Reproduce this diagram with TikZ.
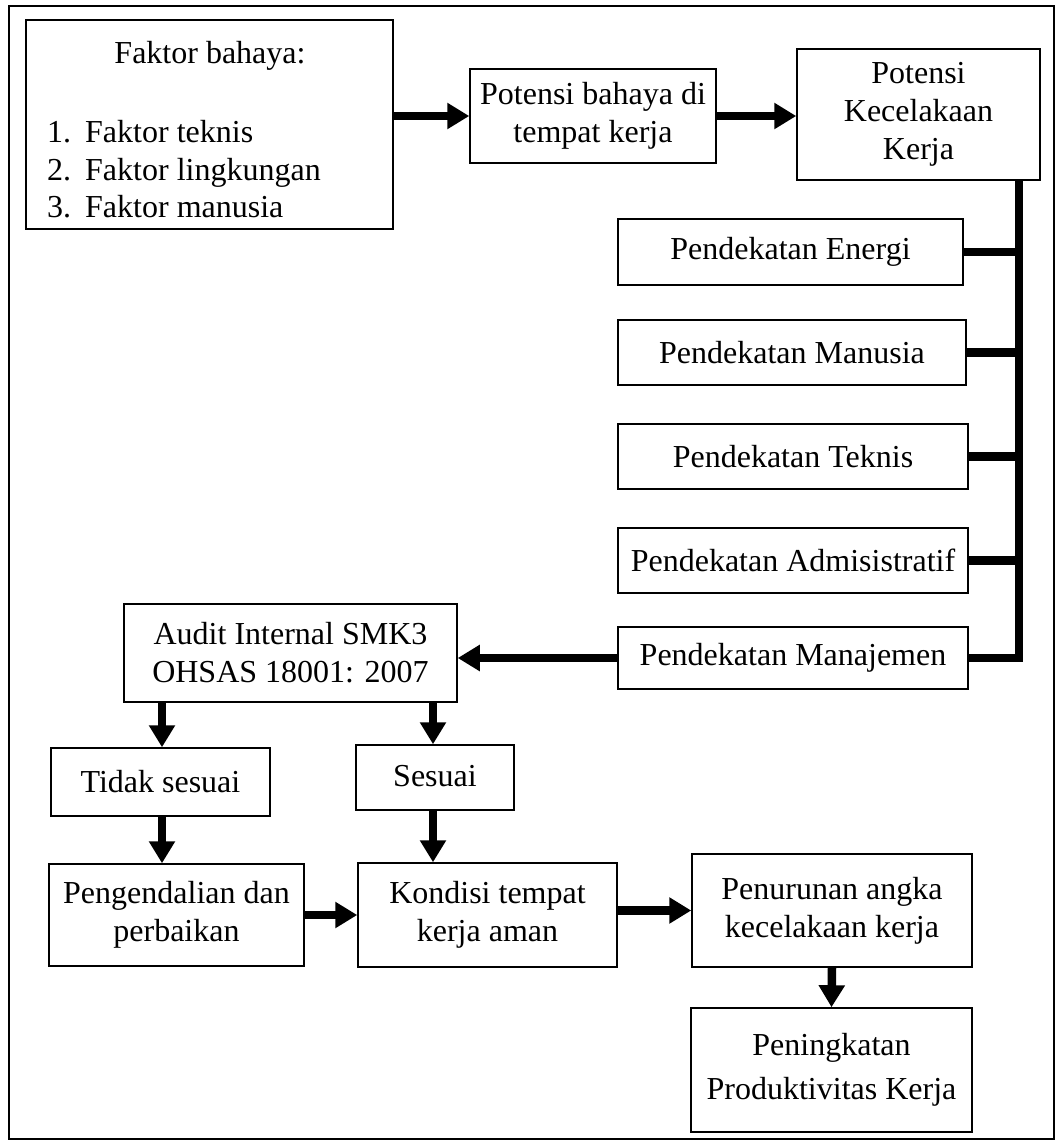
\documentclass[tikz,border=0pt]{standalone}
\usepackage{fontspec}
\setmainfont{Liberation Serif}
\usetikzlibrary{arrows.meta}
\tikzset{
  txt/.style={font=\fontsize{32}{38}\selectfont, inner sep=0pt},
  box/.style={txt, draw, line width=1.5pt, align=center},
  arr/.style={line width=8.5pt, -{Triangle[length=22pt,width=25pt]}},
  conn/.style={line width=8.5pt, line join=miter},
}
\begin{document}
\begin{tikzpicture}[x=1pt,y=-1pt]
\useasboundingbox (0,0) rectangle (1056,1144);
\draw[line width=1.5pt] (9,6) rectangle (1054,1139);

% boxes
\node[box, minimum width=367pt, minimum height=209pt] (fak) at (209.5,124.5) {};
\node[txt, anchor=base] (fh) at (210,63) {Faktor bahaya:};
\node[txt, anchor=base west] (n1) at (47,142) {1.};
\node[txt, anchor=base west] (t1) at (85,142) {Faktor teknis};
\node[txt, anchor=base west] (n2) at (47,180) {2.};
\node[txt, anchor=base west] (t2) at (85,180) {Faktor lingkungan};
\node[txt, anchor=base west] (n3) at (47,217) {3.};
\node[txt, anchor=base west] (t3) at (85,217) {Faktor manusia};

\node[box, minimum width=246pt, minimum height=94pt] (pb) at (593,116) {Potensi bahaya di\\tempat kerja};
\node[box, minimum width=243pt, minimum height=131pt] (pk) at (918.5,114.5) {Potensi\\Kecelakaan\\Kerja};

\node[box, minimum width=345pt, minimum height=66pt] (en) at (790.5,252) {Pendekatan Energi};
\node[box, minimum width=348pt, minimum height=65pt] (ma) at (792,352.5) {Pendekatan Manusia};
\node[box, minimum width=350pt, minimum height=65pt] (te) at (793,456.5) {Pendekatan Teknis};
\node[box, minimum width=350pt, minimum height=65pt] (ad) at (793,560.5) {Pendekatan Admisistratif};
\node[box, minimum width=350pt, minimum height=62pt] (mj) at (793,658) {Pendekatan Manajemen};

\node[box, minimum width=333pt, minimum height=98pt] (au) at (290.5,653) {Audit Internal SMK3\\OHSAS 18001: 2007};
\node[box, minimum width=219pt, minimum height=68pt] (ts) at (160.5,782) {Tidak sesuai};
\node[box, minimum width=158pt, minimum height=65pt] (se) at (435,777.5) {\raisebox{4pt}{Sesuai}};
\node[box, minimum width=255pt, minimum height=102pt] (pg) at (176.5,915) {Pengendalian dan\\perbaikan};
\node[box, minimum width=259pt, minimum height=104pt] (ko) at (487.5,915) {Kondisi tempat\\kerja aman};
\node[box, minimum width=280pt, minimum height=113pt] (pn) at (832,910.5) {Penurunan angka\\kecelakaan kerja};
\node[box, minimum width=281pt, minimum height=124pt] (pt) at (831.5,1070) {Peningkatan\\[6pt]Produktivitas Kerja};

% helper coordinates
\coordinate (tt) at (1019,180);
\coordinate (tb) at (1019,658);
\coordinate (xl) at (162,0);
\coordinate (xr) at (433,0);

% connectors
\draw[arr] (fak.east |- pb.west) -- (pb.west);
\draw[arr] (pb.east) -- (pk.west |- pb.east);

\draw[conn] (mj.east) -- (tb) -- (tt);
\draw[conn] (en.east) -- (en.east -| tt);
\draw[conn] (ma.east) -- (ma.east -| tt);
\draw[conn] (te.east) -- (te.east -| tt);
\draw[conn] (ad.east) -- (ad.east -| tt);

\draw[arr] (mj.west) -- (mj.west -| au.east);
\draw[arr] (au.south -| xl) -- (ts.north -| xl);
\draw[arr] (au.south -| xr) -- (se.north -| xr);
\draw[arr] (ts.south -| xl) -- (pg.north -| xl);
\draw[arr] (se.south -| xr) -- (ko.north -| xr);
\draw[arr] (pg.east |- ko.west) -- (ko.west);
\draw[arr] (ko.east |- pn.west) -- (pn.west);
\draw[arr] (pn.south) -- (pt.north);
\end{tikzpicture}
\end{document}
